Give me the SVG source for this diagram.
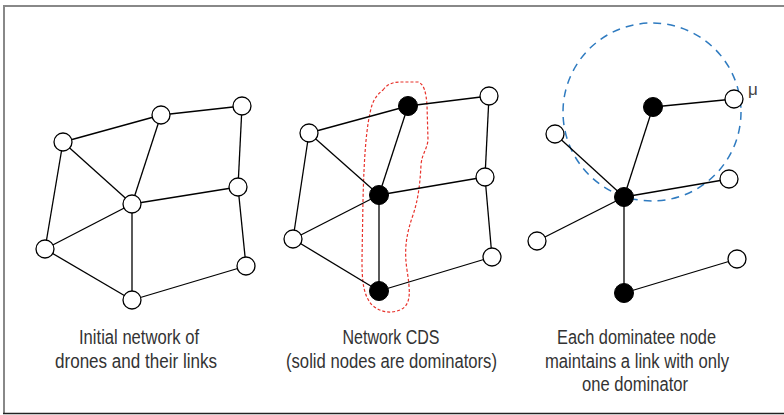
<svg xmlns="http://www.w3.org/2000/svg" width="784" height="415" viewBox="0 0 784 415">
<style>
.e{stroke:#000;stroke-width:1.3;fill:none}
.n{fill:#fff;stroke:#000;stroke-width:1.3}
.s{fill:#000;stroke:#000;stroke-width:1}
.t{font-family:"Liberation Sans",Arial,sans-serif;font-size:20px;fill:#333;text-anchor:middle}
</style>
<rect x="0" y="0" width="784" height="415" fill="#fff"/>
<g id="frame">
<line x1="3" y1="6" x2="784" y2="6" stroke="#888" stroke-width="2"/>
<line x1="4" y1="5" x2="4" y2="414" stroke="#888" stroke-width="2"/>
<line x1="3" y1="413.5" x2="784" y2="413.5" stroke="#222" stroke-width="1.5"/>
</g>
<g id="highlights">
<path d="M383,90 C388,83 395,82 400,82 L418,82 C424,84 426,92 427,105 L428,140 C427,150 422,153 421,165 C420,185 418,200 413,215 C406,235 404,250 407,270 C410,290 412,305 400,310 C390,314 380,312 372,305 C363,295 362,280 362,260 L363,200 C364,160 366,125 372,105 C375,97 379,93 383,90 Z" fill="none" stroke="#e8322b" stroke-width="1.2" stroke-dasharray="3,2"/>
<circle cx="652" cy="112" r="89" fill="none" stroke="#2f7bc0" stroke-width="1.5" stroke-dasharray="8,6"/>
</g>
<g id="connectors">
<line class="e" x1="63" y1="142" x2="161" y2="115"/>
<line class="e" x1="161" y1="115" x2="242" y2="106"/>
<line class="e" x1="63" y1="142" x2="132" y2="204"/>
<line class="e" x1="161" y1="115" x2="132" y2="204"/>
<line class="e" x1="242" y1="106" x2="238" y2="187"/>
<line class="e" x1="132" y1="204" x2="238" y2="187"/>
<line class="e" x1="63" y1="142" x2="45" y2="249"/>
<line class="e" x1="132" y1="204" x2="45" y2="249"/>
<line class="e" x1="132" y1="204" x2="132" y2="300"/>
<line class="e" x1="45" y1="249" x2="132" y2="300"/>
<line class="e" x1="238" y1="187" x2="246" y2="266"/>
<line class="e" x1="246" y1="266" x2="132" y2="300"/>

<line class="e" x1="309" y1="133" x2="408" y2="106"/>
<line class="e" x1="408" y1="106" x2="489" y2="96"/>
<line class="e" x1="309" y1="133" x2="379" y2="195"/>
<line class="e" x1="408" y1="106" x2="379" y2="195"/>
<line class="e" x1="489" y1="96" x2="485" y2="177"/>
<line class="e" x1="379" y1="195" x2="485" y2="177"/>
<line class="e" x1="309" y1="133" x2="293" y2="239"/>
<line class="e" x1="379" y1="195" x2="293" y2="239"/>
<line class="e" x1="379" y1="195" x2="379" y2="291"/>
<line class="e" x1="293" y1="239" x2="379" y2="291"/>
<line class="e" x1="485" y1="177" x2="492" y2="257"/>
<line class="e" x1="492" y1="257" x2="379" y2="291"/>

<line class="e" x1="624" y1="197" x2="653" y2="107"/>
<line class="e" x1="653" y1="107" x2="734" y2="99"/>
<line class="e" x1="624" y1="197" x2="555" y2="134"/>
<line class="e" x1="624" y1="197" x2="729" y2="179"/>
<line class="e" x1="624" y1="197" x2="537" y2="241"/>
<line class="e" x1="624" y1="197" x2="624" y2="293"/>
<line class="e" x1="624" y1="293" x2="737" y2="259"/>
</g>
<g id="panel1">
<g id="n1a"><circle class="n" cx="63" cy="142" r="9"/></g>
<g id="n1b"><circle class="n" cx="161" cy="115" r="9"/></g>
<g id="n1c"><circle class="n" cx="242" cy="106" r="9"/></g>
<g id="n1d"><circle class="n" cx="132" cy="204" r="9"/></g>
<g id="n1e"><circle class="n" cx="238" cy="187" r="9"/></g>
<g id="n1f"><circle class="n" cx="45" cy="249" r="9"/></g>
<g id="n1g"><circle class="n" cx="246" cy="266" r="9"/></g>
<g id="n1h"><circle class="n" cx="132" cy="300" r="9"/></g>
</g>
<g id="panel2">
<g id="n2a"><circle class="n" cx="309" cy="133" r="9"/></g>
<g id="n2b"><circle class="s" cx="408" cy="106" r="9.5"/></g>
<g id="n2c"><circle class="n" cx="489" cy="96" r="9"/></g>
<g id="n2d"><circle class="s" cx="379" cy="195" r="9.5"/></g>
<g id="n2e"><circle class="n" cx="485" cy="177" r="9"/></g>
<g id="n2f"><circle class="n" cx="293" cy="239" r="9"/></g>
<g id="n2g"><circle class="n" cx="492" cy="257" r="9"/></g>
<g id="n2h"><circle class="s" cx="379" cy="291" r="9.5"/></g>
</g>
<g id="panel3">
<g id="n3a"><circle class="n" cx="555" cy="134" r="9"/></g>
<g id="n3b"><circle class="s" cx="653" cy="107" r="9.5"/></g>
<g id="n3c"><circle class="n" cx="734" cy="99" r="9"/></g>
<g id="n3d"><circle class="s" cx="624" cy="197" r="9.5"/></g>
<g id="n3e"><circle class="n" cx="729" cy="179" r="9"/></g>
<g id="n3f"><circle class="n" cx="537" cy="241" r="9"/></g>
<g id="n3g"><circle class="n" cx="737" cy="259" r="9"/></g>
<g id="n3h"><circle class="s" cx="624" cy="293" r="9.5"/></g>
<text x="748" y="95" font-family="Liberation Sans,Arial,sans-serif" font-size="17" fill="#444">μ</text>
</g>
<g id="captions">
<text class="t" x="139" y="344" textLength="120" lengthAdjust="spacingAndGlyphs">Initial network of</text>
<text class="t" x="136" y="368" textLength="162" lengthAdjust="spacingAndGlyphs">drones and their links</text>
<text class="t" x="391" y="344" textLength="97" lengthAdjust="spacingAndGlyphs">Network CDS</text>
<text class="t" x="391.5" y="368" textLength="211" lengthAdjust="spacingAndGlyphs">(solid nodes are dominators)</text>
<text class="t" x="636.5" y="344" textLength="159" lengthAdjust="spacingAndGlyphs">Each dominatee node</text>
<text class="t" x="637" y="368" textLength="184" lengthAdjust="spacingAndGlyphs">maintains a link with only</text>
<text class="t" x="635" y="391" textLength="106" lengthAdjust="spacingAndGlyphs">one dominator</text>
</g>
</svg>
